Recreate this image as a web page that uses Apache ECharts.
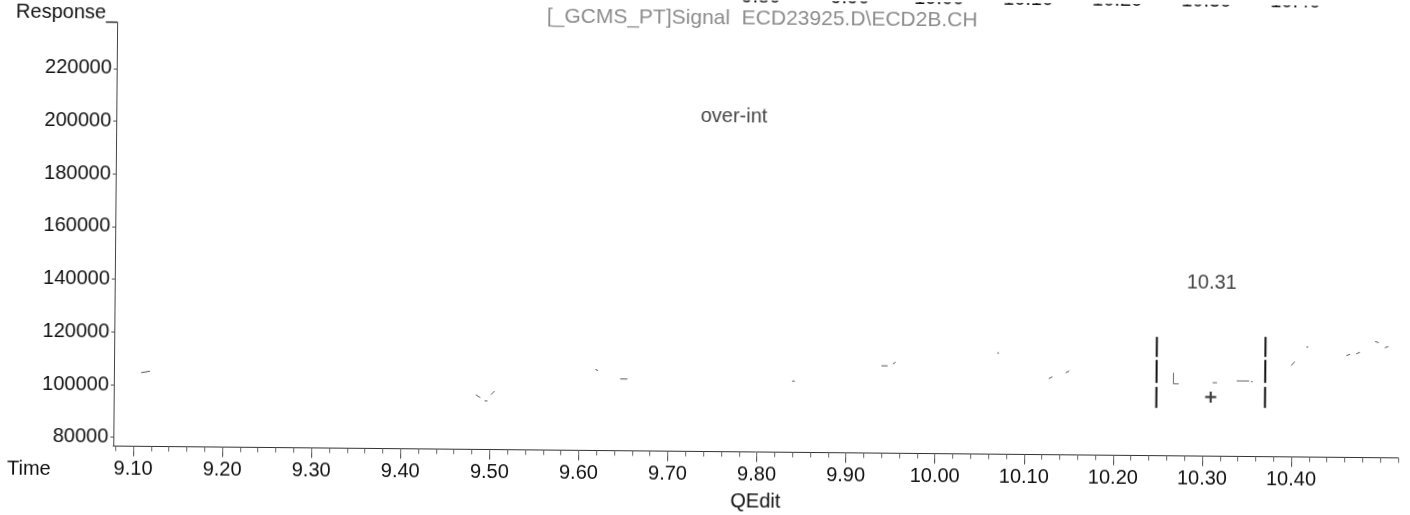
<!DOCTYPE html>
<html>
<head>
<meta charset="utf-8">
<script src="https://cdn.jsdelivr.net/npm/echarts@6/dist/echarts.min.js"></script>
<style>
  html, body { margin: 0; padding: 0; background: #ffffff; overflow: hidden; }
  #chart { width: 1410px; height: 515px; transform-origin: 705px 257.5px; transform: rotate(0.527deg); }
</style>
</head>
<body>
<div id="chart"></div>
<script>
// ---- data ----
const timeLabels = [9.1, 9.2, 9.3, 9.4, 9.5, 9.6, 9.7, 9.8, 9.9, 10.0, 10.1, 10.2, 10.3, 10.4];
const upperPanelLabels = [9.8, 9.9, 10.0, 10.1, 10.2, 10.3, 10.4];
const responseTicks = [80000, 100000, 120000, 140000, 160000, 180000, 200000, 220000];

// faint visible fragments of the signal trace (time, response)
const signalFragments = [
  [[9.108, 104600], [9.118, 105200]],
  [[9.484, 97400], [9.489, 96300]],
  [[9.494, 95100], [9.497, 95100]],
  [[9.501, 97500], [9.505, 98900]],
  [[9.618, 107400], [9.621, 107000]],
  [[9.646, 103900], [9.654, 103900]],
  [[9.839, 103700], [9.842, 103700]],
  [[9.939, 109800], [9.946, 109800]],
  [[9.952, 110600], [9.955, 111200]],
  [[10.069, 115100], [10.071, 115100]],
  [[10.127, 105500], [10.131, 106200]],
  [[10.146, 107800], [10.150, 108500]],
  [[10.399, 111300], [10.403, 112800]],
  [[10.416, 118400], [10.418, 118400]],
  [[10.461, 115300], [10.465, 115800]],
  [[10.472, 116000], [10.476, 116600]],
  [[10.493, 120800], [10.497, 120300]],
  [[10.504, 118400], [10.508, 118900]]
];

// integration window bars (start / end of peak at 10.31)
const windowFragments = [
  [[10.248, 121700], [10.248, 114110]],
  [[10.248, 112980], [10.248, 104250]],
  [[10.248, 102730], [10.248, 94760]],
  [[10.370, 122100], [10.370, 114500]],
  [[10.370, 113360], [10.370, 104630]],
  [[10.370, 103110], [10.370, 95140]]
];

// peak baseline marks inside the window
const baselineFragments = [
  [[10.267, 108200], [10.267, 104000], [10.273, 104000]],
  [[10.311, 104550], [10.316, 104550]],
  [[10.338, 105310], [10.352, 105310]],
  [[10.354, 105050], [10.356, 105050]]
];

const expectedRT = [[10.309, 99100]];

const annotations = [
  [9.771, 203700, 'over-int'],
  [10.309, 142400, '10.31']
];

const headerText = '[_GCMS_PT]Signal  ECD23925.D\\ECD2B.CH';

// ---- build ----
function joinFragments(frags) {
  const out = [];
  frags.forEach((f, i) => {
    f.forEach(p => out.push(p));
    if (i < frags.length - 1) out.push([f[f.length - 1][0], '-']);
  });
  return out;
}
const minorTicks = [];
for (let k = 454; k <= 526; k++) minorTicks.push(+(k * 0.02).toFixed(2));

const FONT = 'Liberation Sans, Arial, sans-serif';
const X_MIN = 9.0775, X_MAX = 10.5201;
const Y_MIN = 76660, Y_MAX = 237400;

const chart = echarts.init(document.getElementById('chart'), null, { renderer: 'canvas' });
chart.setOption({
  animation: false,
  backgroundColor: '#ffffff',
  textStyle: { fontFamily: FONT },
  grid: { left: 115, right: 10, top: 28, bottom: 63.5, containLabel: false, outerBoundsMode: 'none' },
  graphic: [
    { type: 'text', x: 760, y: 18, silent: true,
      style: { text: headerText, fill: '#8c8c8c', font: '21px ' + FONT, align: 'center', verticalAlign: 'middle' } },
    { type: 'text', x: 9, y: 475, silent: true,
      style: { text: 'Time', fill: '#111', font: '20px ' + FONT, align: 'left', verticalAlign: 'middle' } }
  ],
  xAxis: [
    {
      type: 'value', min: X_MIN, max: X_MAX, position: 'bottom',
      name: 'QEdit', nameLocation: 'middle', nameGap: 50,
      nameTextStyle: { fontSize: 20, color: '#111', fontFamily: FONT, verticalAlign: 'middle' },
      axisLine: { show: true, onZero: false, lineStyle: { color: '#333', width: 1 } },
      axisTick: { show: true, length: 10, customValues: timeLabels, lineStyle: { color: '#444' } },
      axisLabel: { show: true, customValues: timeLabels, margin: 13, fontSize: 20, color: '#111', fontFamily: FONT,
        formatter: v => (+v).toFixed(2) },
      splitLine: { show: false }
    },
    {
      type: 'value', min: X_MIN, max: X_MAX, position: 'top',
      axisLine: { show: false },
      axisTick: { show: false },
      axisLabel: { show: true, customValues: upperPanelLabels, margin: 22, fontSize: 20, color: '#111', fontFamily: FONT,
        formatter: v => (+v).toFixed(2) },
      splitLine: { show: false }
    },
    {
      type: 'value', min: X_MIN, max: X_MAX, position: 'bottom',
      axisLine: { show: false, onZero: false },
      axisTick: { show: true, length: 5, customValues: minorTicks, lineStyle: { color: '#666' } },
      axisLabel: { show: false },
      splitLine: { show: false }
    }
  ],
  yAxis: {
    type: 'value', min: Y_MIN, max: Y_MAX,
    name: 'Response_', nameLocation: 'end', nameGap: 10,
    nameTextStyle: { fontSize: 20, color: '#111', fontFamily: FONT, align: 'right', verticalAlign: 'middle' },
    axisLine: { show: true, lineStyle: { color: '#444', width: 1 } },
    axisTick: { show: true, length: 3, customValues: responseTicks, lineStyle: { color: '#555' } },
    axisLabel: { show: true, customValues: responseTicks, margin: 5, fontSize: 20, color: '#111', fontFamily: FONT,
      formatter: v => String(Math.round(v)) },
    splitLine: { show: false }
  },
  series: [
    {
      name: 'Signal', type: 'line', xAxisIndex: 0, silent: true,
      data: joinFragments(signalFragments),
      showSymbol: false, symbol: 'none', connectNulls: false,
      lineStyle: { color: '#555', width: 1 }
    },
    {
      name: 'Window', type: 'line', xAxisIndex: 0, silent: true,
      data: joinFragments(windowFragments),
      showSymbol: false, symbol: 'none', connectNulls: false,
      lineStyle: { color: '#111', width: 2 }
    },
    {
      name: 'Baseline', type: 'line', xAxisIndex: 0, silent: true,
      data: joinFragments(baselineFragments),
      showSymbol: false, symbol: 'none', connectNulls: false,
      lineStyle: { color: '#666', width: 1 }
    },
    {
      name: 'RT', type: 'scatter', xAxisIndex: 0, silent: true,
      data: expectedRT,
      symbol: 'path://M4,0H6V4H10V6H6V10H4V6H0V4H4Z', symbolSize: 11,
      itemStyle: { color: '#111' }
    },
    {
      name: 'Labels', type: 'scatter', xAxisIndex: 0, silent: true,
      data: annotations, symbolSize: 0,
      label: { show: true, position: 'inside', formatter: p => p.value[2],
        fontSize: 20, color: '#111', fontFamily: FONT }
    }
  ]
});
</script>
</body>
</html>
